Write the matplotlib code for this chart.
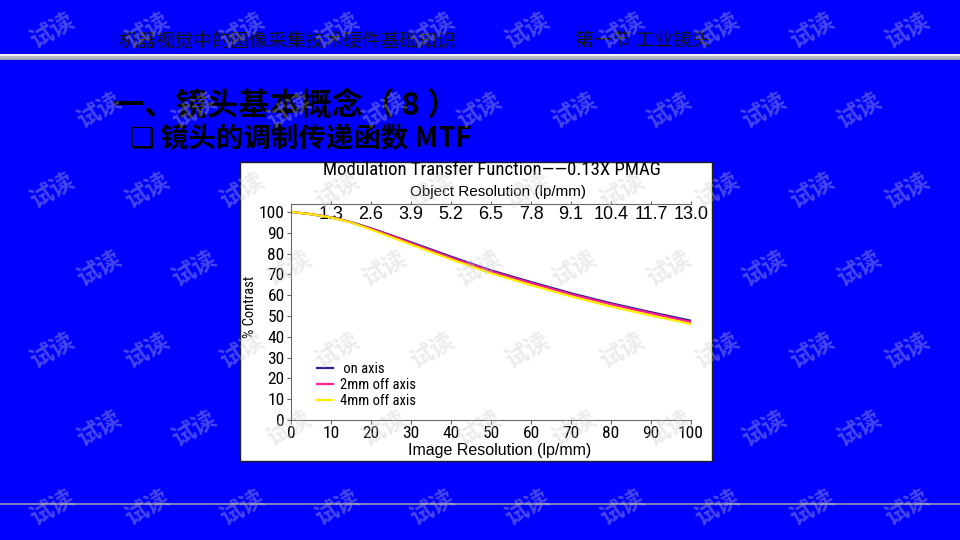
import matplotlib
matplotlib.use("Agg")
import matplotlib.pyplot as plt
from matplotlib.patches import Rectangle
from matplotlib.lines import Line2D

# MTF curves (percent contrast vs image resolution)
image_res = [0, 5, 10, 15, 20, 25, 30, 40, 50, 60, 70, 80, 90, 100]
on_axis = [100, 98.9, 97.4, 95.1, 92.1, 88.8, 85.4, 78.5, 71.9, 66.3, 60.9, 56.1, 51.8, 47.7]
off_2mm = [100, 98.9, 97.4, 95.0, 91.9, 88.5, 85.0, 78.0, 71.4, 65.8, 60.4, 55.6, 51.3, 47.1]
off_4mm = [100, 98.9, 97.3, 94.9, 91.5, 87.9, 84.3, 77.2, 70.5, 64.8, 59.4, 54.5, 50.2, 46.1]
series = [on_axis, off_2mm, off_4mm]
series_labels = [" on axis", "2mm off axis", "4mm off axis"]
series_colors = ["#2b1f8f", "#ff1f8f", "#ffee00"]

x_ticks = [0, 10, 20, 30, 40, 50, 60, 70, 80, 90, 100]
y_ticks = [0, 10, 20, 30, 40, 50, 60, 70, 80, 90, 100]
obj_ticks = [1.3, 2.6, 3.9, 5.2, 6.5, 7.8, 9.1, 10.4, 11.7, 13.0]
pmag = 0.13

CJK = ["Noto Sans CJK SC", "DejaVu Sans"]
NARROW = ["Roboto Condensed", "Archivo Narrow", "DejaVu Sans"]
REG = ["Liberation Sans", "DejaVu Sans"]

W, H = 960, 540


def fx(px):
    return px / W


def fy(py):
    return 1 - py / H


fig = plt.figure(figsize=(9.6, 5.4), dpi=100, facecolor="#0000ff")

# slide header
fig.text(fx(118), fy(41), "机器视觉中的图像采集技术硬件基础知识", family=CJK,
         fontsize=13.5, color="#151515", ha="left", va="center")
fig.text(fx(575), fy(41), "第一节 工业镜头", family=CJK,
         fontsize=13.5, color="#151515", ha="left", va="center")
fig.add_artist(Line2D([0, 1], [fy(54.5)] * 2, color="#f2f2f2", lw=2.2,
                      transform=fig.transFigure))
fig.add_artist(Line2D([0, 1], [fy(58.3)] * 2, color="#b4b4b4", lw=2.6,
                      transform=fig.transFigure))
fig.add_artist(Line2D([0, 1], [fy(503.5)] * 2, color="#8a8ab8", lw=1.3,
                      transform=fig.transFigure))

fig.text(fx(113), fy(105), "一、镜头基本概念（ 8 ）", family=CJK, fontsize=22.5,
         fontweight="bold", color="black", ha="left", va="center")
fig.text(fx(130), fy(139), "❑ 镜头的调制传递函数 MTF", family=CJK, fontsize=19.8,
         fontweight="bold", color="black", ha="left", va="center")

# white picture box
fig.add_artist(Rectangle((fx(240), fy(461)), 472 / W, 299 / H, facecolor="white",
                         edgecolor="#222222", lw=1, transform=fig.transFigure, zorder=-1))

ax = fig.add_axes([fx(291), fy(420), 400 / W, 216 / H])
ax.set_facecolor("none")
for vals, lab, col in zip(series, series_labels, series_colors):
    ax.plot(image_res, vals, color=col, lw=1.6, label=lab)

ax.set_xlim(0, 100)
ax.set_ylim(0, 103.8)
ax.set_xticks(x_ticks)
ax.set_yticks(y_ticks)
ax.tick_params(axis="both", direction="out", length=3, color="#666666",
               labelsize=12.5, pad=1.5)
for lbl in ax.get_xticklabels() + ax.get_yticklabels():
    lbl.set_family(NARROW)
ax.spines["right"].set_visible(False)
ax.spines["top"].set_visible(False)
for s in ["left", "bottom"]:
    ax.spines[s].set_color("#666666")

sec = ax.secondary_xaxis("top", functions=(lambda v: v * pmag, lambda v: v / pmag))
sec.set_xticks(obj_ticks, labels=[f"{v:.1f}" for v in obj_ticks])
sec.tick_params(direction="out", length=2, pad=-16, labelsize=13, color="#666666")
sec.spines["top"].set_color("#666666")
for lbl in sec.get_xticklabels():
    lbl.set_family(REG)

leg = ax.legend(loc="upper left", bbox_to_anchor=(0.065, 0.268), frameon=False,
                prop={"family": NARROW, "size": 10.5}, handlelength=1.1,
                handletextpad=0.5, labelspacing=0.15, borderpad=0, borderaxespad=0)

fig.text(fx(492), fy(170), "Modulation Transfer Function——0.13X PMAG", family=NARROW,
         fontsize=13.5, ha="center", va="center")
fig.text(fx(498), fy(192), "Object Resolution (lp/mm)", family=REG,
         fontsize=11, ha="center", va="center")
fig.text(fx(500), fy(451), "Image Resolution (lp/mm)", family=REG,
         fontsize=11.5, ha="center", va="center")
fig.text(fx(250), fy(307), "% Contrast", family=NARROW, fontsize=10.5,
         rotation=90, ha="center", va="center")

# "试读" watermark grid
rows = [30, 110, 190, 268, 350, 428, 507]
for i, yy in enumerate(rows):
    xx = 53 if i % 2 == 0 else 100
    while xx < 930:
        fig.text(fx(xx), fy(yy), "试读", family=CJK, fontsize=17, fontweight="bold",
                 rotation=30, color="#c8c8c8", alpha=0.35, ha="center", va="center",
                 zorder=10)
        xx += 95

fig.savefig("out.png", dpi=100, facecolor=fig.get_facecolor())
